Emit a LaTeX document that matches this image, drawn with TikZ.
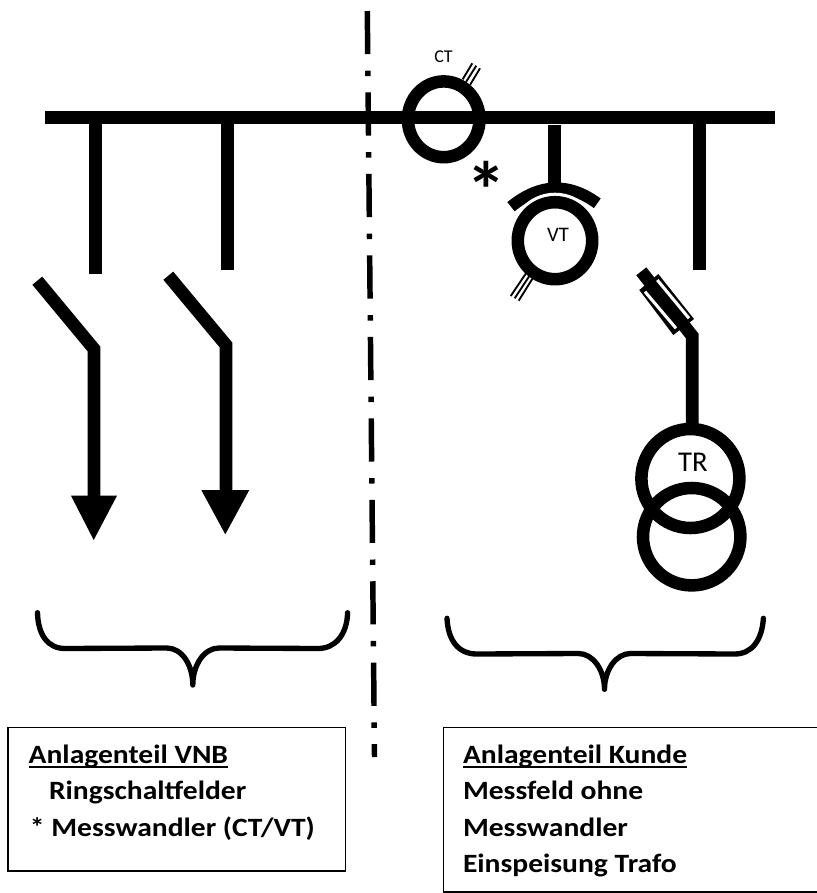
\documentclass[tikz,border=0pt]{standalone}
\usepackage{fontspec}
\setmainfont{Carlito}
\newfontfamily\lblfont[FakeStretch=1.12]{Carlito}
\newcommand\ulbar[1]{\setbox0\hbox{#1}\rlap{\rule[-3.4pt]{\wd0}{1.6pt}}\box0}
\tikzset{
  bar/.style={line width=9.6pt,line cap=butt,line join=miter,miter limit=10},
  ring/.style={line width=9.4pt},
  hatch/.style={line width=1.4pt},
  brace/.style={line width=4pt,line cap=round,line join=round},
  head/.style={fill=black,draw=none},
  boxline/.style={line width=1pt},
  lbl/.style={font=\fontsize{19.8pt}{19.8pt}\lblfont\bfseries,anchor=base west,inner sep=0pt,outer sep=0pt},
  sym/.style={inner sep=0pt,outer sep=0pt}
}
\begin{document}
\begin{tikzpicture}[x=0.75pt,y=-0.75pt]
\useasboundingbox (0,0) rectangle (817,893);
% boundary
\coordinate (lineA) at (367.3,11);
\coordinate (lineB) at (374.5,757);
\draw[line width=4.1pt,dash pattern=on 32.4pt off 12.4pt on 4.1pt off 12.2pt] (lineA) -- (lineB);
% busbar
\coordinate (busL) at (45,117.7);
\coordinate (busR) at (775,117.7);
\draw[bar] (busL) -- (busR);
% left feeders
\coordinate (f1a) at (95.7,117.7); \coordinate (f1b) at (95.7,273.7);
\coordinate (f2a) at (227.8,117.7); \coordinate (f2b) at (227.8,270.3);
\draw[bar] (f1a) -- (f1b);
\draw[bar] (f2a) -- (f2b);
\coordinate (s1a) at (37.3,280.7); \coordinate (s1b) at (94,349); \coordinate (s1c) at (94,497);
\coordinate (s2a) at (168.3,275.7); \coordinate (s2b) at (226,345); \coordinate (s2c) at (226,491);
\draw[bar] (s1a) -- (s1b) -- (s1c);
\draw[bar] (s2a) -- (s2b) -- (s2c);
\fill[head] (71,495.7) -- (117,495.7) -- (93.7,540) -- cycle;
\fill[head] (201.3,490) -- (249.3,490) -- (225.3,534.3) -- cycle;
% CT
\coordinate (ct) at (443.7,119.3);
\draw[ring] (ct) ellipse [x radius=35.8,y radius=37.9];
\draw[hatch] (472.3,63.3) -- (462.7,79.3);
\draw[hatch] (476.3,65.7) -- (466,82);
\draw[hatch] (480,68.3) -- (470,85);
\node[sym,font=\fontsize{13.5pt}{13.5pt}\selectfont] (ctlabel) at (443.5,57) {CT};
% star
\node[sym,font=\fontsize{60pt}{60pt}\selectfont\bfseries] (star) at (486,190) {*};
% VT
\coordinate (vt) at (555,240.7);
\coordinate (vtstubA) at (554.3,125); \coordinate (vtstubB) at (554.3,190);
\draw[bar] (vtstubA) -- (vtstubB);
\coordinate (arcL) at (511,206.7); \coordinate (arcR) at (597.3,203.3);
\coordinate (arcC1) at (539.7,183.3); \coordinate (arcC2) at (568.4,182.2);
\draw[line width=8.8pt] (arcL) .. controls (arcC1) and (arcC2) .. (arcR);
\draw[white,line width=3pt] (vt) ellipse [x radius=44.5,y radius=46];
\draw[ring] (vt) ellipse [x radius=37.2,y radius=38.5];
\node[sym,font=\fontsize{15.5pt}{15.5pt}\selectfont] (vtlabel) at (558,235) {VT};
\draw[hatch] (510.7,296) -- (526.7,272.3);
\draw[hatch] (514.7,298.3) -- (530,275);
\draw[hatch] (518.7,300.7) -- (533.3,277.3);
% right feeder and fuse
\coordinate (f3a) at (699.2,117.7); \coordinate (f3b) at (699.2,270);
\draw[bar] (f3a) -- (f3b);
\coordinate (fa) at (641.3,271.3); \coordinate (fb) at (692.2,336); \coordinate (fc) at (692.2,430);
\draw[bar] (fa) -- (fb) -- (fc);
\fill[head] (658.3,274) -- (694,319) -- (673.3,335) -- (639.3,290) -- cycle;
\draw[white,line width=2.3pt] (657.3,280) -- (689,318.3);
\draw[white,line width=2.3pt] (645,291.7) -- (676,328.3);
% transformer
\coordinate (tr1) at (690.4,478.5);
\coordinate (tr2) at (691.7,536.7);
\draw[ring] (tr1) ellipse [x radius=49,y radius=49.5];
\draw[ring] (tr2) ellipse [x radius=48.7,y radius=48.7];
\node[sym,font=\fontsize{21.5pt}{21.5pt}\selectfont] (trlabel) at (693,462) {TR};
% braces
\draw[brace] (37.5,612.7) .. controls (38,635) and (48,648.5) .. (65,648.5) -- (166.8,648) .. controls (182,648) and (192.8,665) .. (192.8,685) .. controls (192.8,665) and (204,648) .. (219,648) -- (318,648.5) .. controls (335,648.5) and (347,635) .. (347.6,612.7);
\draw[brace] (447,618.3) .. controls (448,640) and (458,654) .. (476.8,654) -- (578.4,653.5) .. controls (593,653.5) and (604.5,670) .. (604.5,689.3) .. controls (604.5,670) and (616,653.5) .. (630.5,653.5) -- (734.7,654) .. controls (752,654) and (762,640) .. (763.4,618.3);
% boxes
\draw[boxline] (8,727.7) rectangle (345.5,871);
\draw[boxline] (817,727.7) -- (443.5,727.7) -- (443.5,892) -- (817,892);
% text
\node[lbl] (t1) at (28.7,763.3) {\ulbar{Anlagenteil VNB}};
\node[lbl] (t2) at (49,799.5) {Ringschaltfelder};
\node[lbl] (t3) at (30,836) {* Messwandler (CT/VT)};
\node[lbl] (t4) at (463,763.3) {\ulbar{Anlagenteil Kunde}};
\node[lbl] (t5) at (463,799.5) {Messfeld ohne};
\node[lbl] (t6) at (463,836) {Messwandler};
\node[lbl] (t7) at (463,872) {Einspeisung Trafo};
\end{tikzpicture}
\end{document}
